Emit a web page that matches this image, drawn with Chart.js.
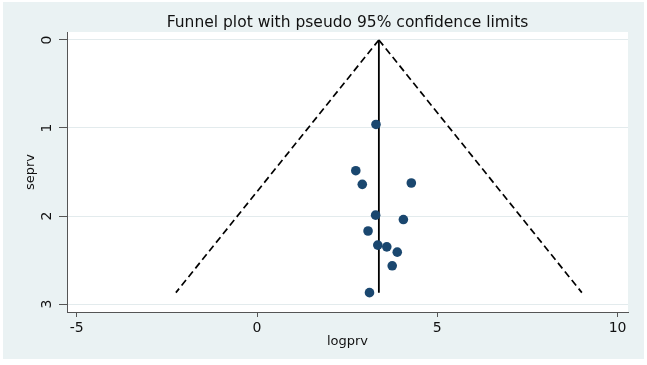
<!DOCTYPE html>
<html>
<head>
<meta charset="utf-8">
<script src="https://cdn.jsdelivr.net/npm/chart.js@4.4.0/dist/chart.umd.min.js"></script>
<style>
 html, body { margin: 0; padding: 0; background: #fff; }
 canvas { display: block; }
</style>
</head>
<body>
<canvas id="funnel-canvas" width="647" height="365"></canvas>
<script>
// study estimates
var logprv = [3.30, 2.74, 2.92, 4.28, 3.29, 4.06, 3.08, 3.35, 3.60, 3.89, 3.75, 3.12];
var seprv = [0.96, 1.485, 1.64, 1.625, 1.99, 2.04, 2.17, 2.33, 2.35, 2.41, 2.565, 2.87];

// pooled estimate and pseudo 95% limits
var limitSe = [0, 2.87];
var pooledX = [3.38, 3.38];
var lowerLimitX = [3.38, -2.25];
var upperLimitX = [3.38, 9.01];

var xTicks = [-5, 0, 5, 10];
var yTicks = [0, 1, 2, 3];

function toPoints(xs, ys) {
 return xs.map(function (x, i) {
  return { x: x, y: ys[i] };
 });
}

function setTicks(values) {
 return function (scale) {
  scale.ticks = values.map(function (v) {
   return { value: v };
  });
 };
}

var backgroundPlugin = {
 id: "stataBackground",
 beforeDraw: function (chart) {
  var ctx = chart.ctx;
  var area = chart.chartArea;
  ctx.save();
  ctx.fillStyle = "#ffffff";
  ctx.fillRect(0, 0, chart.width, chart.height);
  ctx.fillStyle = "#eaf2f3";
  ctx.fillRect(3, 2, 641, 357);
  ctx.fillStyle = "#ffffff";
  ctx.fillRect(area.left, area.top, area.right - area.left, area.bottom - area.top);
  ctx.restore();
 },
};

var textColor = "#111111";
var axisColor = "#555555";
var fontFamily = "'DejaVu Sans', sans-serif";

var ctx = document.getElementById("funnel-canvas");
new Chart(ctx, {
 type: "scatter",
 data: {
  datasets: [
   {
    label: "studies",
    data: toPoints(logprv, seprv),
    backgroundColor: "#1a476f",
    borderWidth: 0,
    pointRadius: 4.8,
   },
   {
    label: "pooled",
    data: toPoints(pooledX, limitSe),
    showLine: true,
    borderColor: "#000000",
    borderWidth: 1.8,
    pointRadius: 0,
   },
   {
    label: "lower",
    data: toPoints(lowerLimitX, limitSe),
    showLine: true,
    borderColor: "#000000",
    borderWidth: 1.7,
    borderDash: [7, 4],
    pointRadius: 0,
   },
   {
    label: "upper",
    data: toPoints(upperLimitX, limitSe),
    showLine: true,
    borderColor: "#000000",
    borderWidth: 1.7,
    borderDash: [7, 4],
    pointRadius: 0,
   },
  ],
 },
 options: {
  responsive: false,
  animation: false,
  devicePixelRatio: 1,
  layout: {
   padding: { left: 0, top: 0, right: 19, bottom: 0 },
  },
  plugins: {
   legend: { display: false },
   tooltip: { enabled: false },
  },
  scales: {
   x: {
    position: "bottom",
    min: -5.27,
    max: 10.29,
    afterBuildTicks: setTicks(xTicks),
    afterFit: function (scale) {
     scale.height = 53;
    },
    border: { display: true, color: axisColor, width: 1 },
    grid: {
     drawOnChartArea: false,
     tickLength: 5,
     tickColor: axisColor,
    },
    ticks: {
     color: textColor,
     font: { family: fontFamily, size: 14 },
     padding: 3,
     maxRotation: 0,
    },
    title: {
     display: true,
     text: "logprv",
     color: textColor,
     font: { family: fontFamily, size: 13 },
     padding: { top: 0, bottom: 16 },
    },
   },
   titleAxis: {
    type: "linear",
    position: "top",
    min: -5.27,
    max: 10.29,
    afterFit: function (scale) {
     scale.height = 32;
    },
    border: { display: false },
    grid: { display: false },
    ticks: { display: false },
    title: {
     display: true,
     text: "Funnel plot with pseudo 95% confidence limits",
     color: textColor,
     font: { family: fontFamily, size: 15.5 },
     padding: { top: 14, bottom: 0 },
    },
   },
   y: {
    position: "left",
    reverse: true,
    min: -0.09,
    max: 3.09,
    afterBuildTicks: setTicks(yTicks),
    afterFit: function (scale) {
     scale.width = 67;
    },
    border: { display: true, color: axisColor, width: 1 },
    grid: {
     color: "#e3ebed",
     tickLength: 8,
     tickColor: axisColor,
    },
    ticks: {
     color: textColor,
     font: { family: fontFamily, size: 14 },
     padding: 7,
     minRotation: 90,
     maxRotation: 90,
     crossAlign: "center",
    },
    title: {
     display: true,
     text: "seprv",
     color: textColor,
     font: { family: fontFamily, size: 13 },
     padding: { top: 23, bottom: 0 },
    },
   },
  },
 },
 plugins: [backgroundPlugin],
});
</script>
</body>
</html>
